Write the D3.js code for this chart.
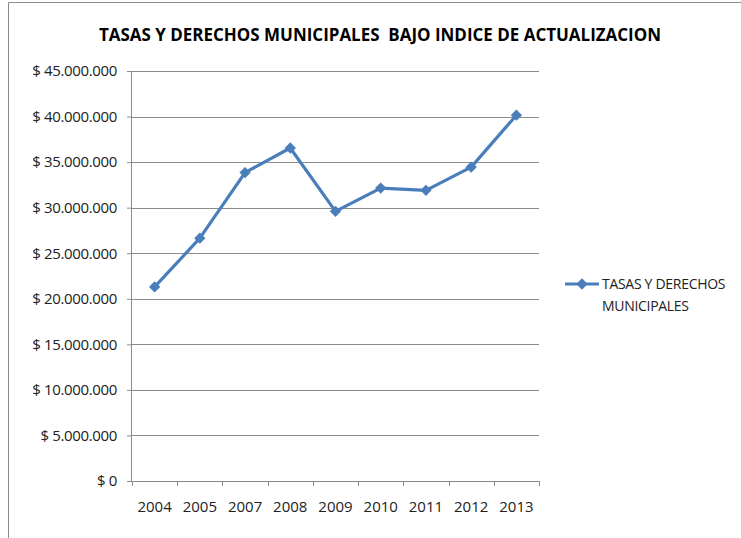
<!DOCTYPE html>
<html>
<head>
<meta charset="utf-8">
<script src="https://cdn.jsdelivr.net/npm/d3@7"></script>
<style>
  body { margin: 0; background: #fff; }
  svg { display: block; font-family: "Open Sans", sans-serif; }
</style>
</head>
<body>
<svg width="741" height="538"></svg>
<script>
const years = ["2004", "2005", "2007", "2008", "2009", "2010", "2011", "2012", "2013"];
const values = [21300000, 26650000, 33850000, 36550000, 29600000, 32150000, 31900000, 34450000, 40150000];
const yTicks = [0, 5000000, 10000000, 15000000, 20000000, 25000000, 30000000, 35000000, 40000000, 45000000];
const legendLines = ["TASAS Y DERECHOS", "MUNICIPALES"];
const title = "TASAS Y DERECHOS MUNICIPALES  BAJO INDICE DE ACTUALIZACION";

const svg = d3.select("svg");
const margin = {top: 71, left: 132, right: 202, bottom: 57};
const width = 741 - margin.left - margin.right;
const height = 538 - margin.top - margin.bottom;

// outer chart border
svg.append("path")
  .attr("d", "M8.5,538 V2.5 H741")
  .attr("fill", "none")
  .attr("stroke", "#8c8c8c")
  .attr("stroke-width", 1);

svg.append("text")
  .attr("x", 380).attr("y", 41)
  .attr("text-anchor", "middle")
  .style("font-size", "18px")
  .style("font-weight", "bold")
  .style("white-space", "pre")
  .attr("textLength", 562)
  .attr("lengthAdjust", "spacingAndGlyphs")
  .text(title);

const g = svg.append("g").attr("transform", `translate(${margin.left},${margin.top})`);

const x = d3.scaleBand().domain(years).range([0, width]);
const y = d3.scaleLinear().domain([0, 45000000]).range([height, 0]);

const fmt = v => "$ " + d3.format(",")(v).replace(/,/g, ".");

// gridlines
g.append("g")
  .selectAll("line")
  .data(yTicks.filter(d => d > 0))
  .join("line")
  .attr("x1", 0).attr("x2", width)
  .attr("y1", d => Math.round(y(d)) + 0.5).attr("y2", d => Math.round(y(d)) + 0.5)
  .attr("stroke", "#8c8c8c");

const yAxis = g.append("g")
  .call(d3.axisLeft(y).tickValues(yTicks).tickSize(5).tickPadding(10).tickFormat(fmt));
yAxis.select(".domain").attr("stroke", "#8c8c8c").attr("d", `M-0.5,0V${height}`);
yAxis.selectAll(".tick line").attr("stroke", "#8c8c8c");
yAxis.selectAll(".tick text")
  .style("font-family", "'Open Sans', sans-serif")
  .style("font-size", "15px")
  .style("letter-spacing", "-0.35px")
  .attr("fill", "#222");

const xAxis = g.append("g")
  .attr("transform", `translate(0,${height})`)
  .call(d3.axisBottom(x).tickSize(0).tickPadding(20));
xAxis.select(".domain").attr("stroke", "#8c8c8c");
xAxis.selectAll(".tick text")
  .style("font-family", "'Open Sans', sans-serif")
  .style("font-size", "15px").attr("fill", "#222");
// category boundary ticks
xAxis.append("g")
  .selectAll("line")
  .data(years.concat(["end"]))
  .join("line")
  .attr("x1", (d, i) => Math.round(x.step() * i) + 0.5)
  .attr("x2", (d, i) => Math.round(x.step() * i) + 0.5)
  .attr("y1", 0).attr("y2", 5)
  .attr("stroke", "#8c8c8c");

const data = years.map((yr, i) => ({year: yr, value: values[i]}));
const cx = d => x(d.year) + x.bandwidth() / 2;

const line = d3.line().x(cx).y(d => y(d.value));
const blue = "#4a7ebb";

g.append("path")
  .datum(data)
  .attr("fill", "none")
  .attr("stroke", blue)
  .attr("stroke-width", 3.2)
  .attr("stroke-linejoin", "round")
  .attr("d", line);

const marker = d3.symbol().type(d3.symbolSquare).size(64);
g.selectAll(".pt")
  .data(data)
  .join("path")
  .attr("class", "pt")
  .attr("transform", d => `translate(${cx(d)},${y(d.value)}) rotate(45)`)
  .attr("d", marker)
  .attr("fill", blue);

// legend
const legend = svg.append("g").attr("transform", "translate(565,284)");
legend.append("line")
  .attr("x1", 0).attr("x2", 34).attr("y1", 0).attr("y2", 0)
  .attr("stroke", blue).attr("stroke-width", 3.2);
legend.append("path")
  .attr("transform", "translate(17,0) rotate(45)")
  .attr("d", marker)
  .attr("fill", blue);
legend.selectAll("text")
  .data(legendLines)
  .join("text")
  .attr("x", 37)
  .attr("y", (d, i) => 5 + i * 22)
  .style("font-family", "'Open Sans', sans-serif")
  .style("font-size", "14px")
  .style("letter-spacing", "-0.3px")
  .attr("fill", "#222")
  .text(d => d);
</script>
</body>
</html>
